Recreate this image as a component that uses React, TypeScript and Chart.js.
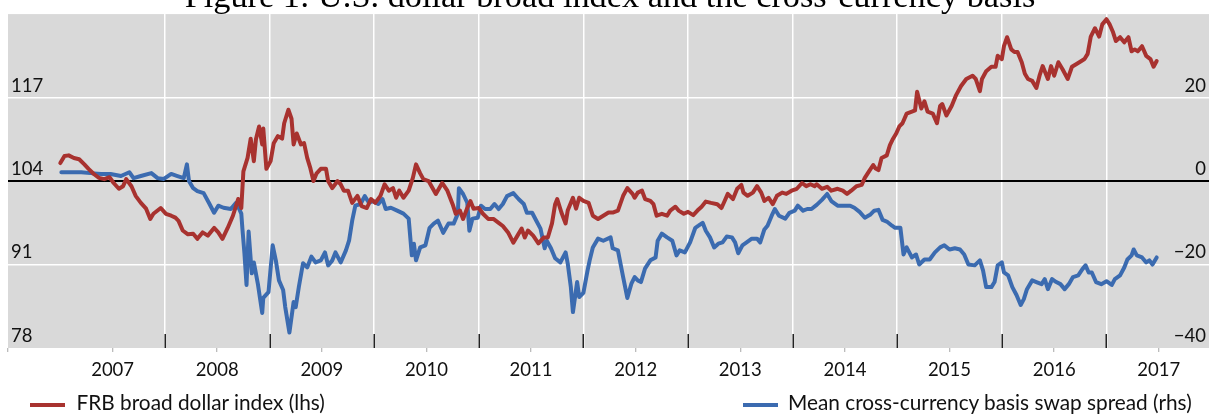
import React, { useEffect, useRef } from 'react';
import { Chart, registerables } from 'chart.js';

Chart.register(...registerables);

const TITLE = 'Figure 1: U.S. dollar broad index and the cross-currency basis';
const RED_LABEL = 'FRB broad dollar index (lhs)';
const BLUE_LABEL = 'Mean cross-currency basis swap spread (rhs)';
const RED = '#A8322F';
const BLUE = '#3B6BB0';
const PLOT_BG = '#D9D9D9';
const FONT = 'Lato';

// FRB broad dollar index (left axis), dates as decimal years
const redDates = [
  2007.00, 2007.04, 2007.08, 2007.13, 2007.18, 2007.23, 2007.27, 2007.32, 2007.37, 2007.42,
  2007.47, 2007.51, 2007.56, 2007.60, 2007.63, 2007.68, 2007.72, 2007.77, 2007.82, 2007.86,
  2007.89, 2007.96, 2008.01, 2008.06, 2008.10, 2008.13, 2008.17, 2008.22, 2008.27, 2008.31,
  2008.36, 2008.41, 2008.47, 2008.51, 2008.55, 2008.60, 2008.65, 2008.70, 2008.73, 2008.75,
  2008.79, 2008.82, 2008.85, 2008.87, 2008.90, 2008.93, 2008.94, 2008.97, 2009.01, 2009.04,
  2009.08, 2009.12, 2009.14, 2009.18, 2009.21, 2009.23, 2009.26, 2009.30, 2009.33, 2009.36,
  2009.39, 2009.42, 2009.45, 2009.49, 2009.54, 2009.56, 2009.60, 2009.65, 2009.68, 2009.71,
  2009.75, 2009.79, 2009.84, 2009.88, 2009.93, 2009.97, 2010.01, 2010.06, 2010.10, 2010.14,
  2010.18, 2010.21, 2010.24, 2010.28, 2010.33, 2010.37, 2010.40, 2010.44, 2010.47, 2010.52,
  2010.59, 2010.65, 2010.70, 2010.75, 2010.78, 2010.82, 2010.85, 2010.89, 2010.92, 2010.95,
  2011.00, 2011.04, 2011.09, 2011.14, 2011.19, 2011.23, 2011.28, 2011.33, 2011.37, 2011.41,
  2011.44, 2011.47, 2011.52, 2011.57, 2011.62, 2011.66, 2011.70, 2011.73, 2011.75, 2011.79,
  2011.83, 2011.85, 2011.90, 2011.93, 2011.96, 2012.00, 2012.05, 2012.09, 2012.14, 2012.19,
  2012.24, 2012.28, 2012.33, 2012.38, 2012.42, 2012.47, 2012.49, 2012.52, 2012.56, 2012.59,
  2012.64, 2012.67, 2012.70, 2012.75, 2012.80, 2012.83, 2012.88, 2012.91, 2012.96, 2013.00,
  2013.05, 2013.09, 2013.13, 2013.17, 2013.22, 2013.28, 2013.32, 2013.35, 2013.38, 2013.43,
  2013.47, 2013.51, 2013.53, 2013.57, 2013.62, 2013.66, 2013.70, 2013.73, 2013.77, 2013.81,
  2013.85, 2013.90, 2013.94, 2013.99, 2014.04, 2014.09, 2014.13, 2014.17, 2014.21, 2014.23,
  2014.28, 2014.33, 2014.37, 2014.43, 2014.48, 2014.52, 2014.56, 2014.61, 2014.66, 2014.69,
  2014.73, 2014.77, 2014.79, 2014.82, 2014.85, 2014.90, 2014.93, 2014.96, 2014.99, 2015.02,
  2015.05, 2015.09, 2015.14, 2015.17, 2015.19, 2015.23, 2015.26, 2015.29, 2015.34, 2015.38,
  2015.41, 2015.43, 2015.47, 2015.52, 2015.56, 2015.61, 2015.66, 2015.72, 2015.75, 2015.79,
  2015.81, 2015.85, 2015.90, 2015.94, 2015.96, 2016.00, 2016.02, 2016.05, 2016.09, 2016.12,
  2016.15, 2016.19, 2016.22, 2016.25, 2016.29, 2016.33, 2016.36, 2016.39, 2016.44, 2016.47,
  2016.50, 2016.54, 2016.58, 2016.63, 2016.67, 2016.71, 2016.76, 2016.79, 2016.82, 2016.85,
  2016.89, 2016.93, 2016.96, 2017.00, 2017.03, 2017.06, 2017.09, 2017.13, 2017.17, 2017.21,
  2017.24, 2017.27, 2017.30, 2017.34, 2017.38, 2017.42, 2017.45, 2017.48,
];
const redValues = [
  106.8, 107.9, 108.0, 107.6, 107.4, 106.6, 105.9, 105.1, 104.5, 104.3,
  104.6, 103.7, 102.8, 103.2, 104.3, 103.2, 101.7, 100.6, 99.7, 98.1,
  98.9, 99.8, 98.9, 98.6, 98.3, 97.8, 96.3, 95.7, 95.8, 95.0,
  96.0, 95.5, 96.7, 96.0, 95.0, 96.7, 98.6, 101.2, 99.8, 105.5,
  107.6, 110.6, 107.1, 110.5, 112.5, 109.7, 112.2, 105.9, 107.1, 109.9,
  111.0, 110.6, 113.0, 115.1, 113.7, 109.7, 111.4, 109.7, 109.9, 107.6,
  106.0, 104.0, 105.2, 105.9, 105.9, 104.0, 102.9, 104.0, 103.5, 102.5,
  102.5, 100.6, 101.7, 100.1, 99.8, 101.2, 100.6, 101.7, 103.5, 102.5,
  102.9, 101.4, 102.5, 101.4, 102.5, 104.5, 106.6, 105.2, 104.3, 104.0,
  102.0, 103.7, 102.5, 100.4, 98.9, 99.4, 98.1, 99.8, 100.9, 99.7,
  99.8, 98.9, 98.1, 98.1, 97.5, 97.0, 96.0, 94.4, 95.5, 96.6,
  95.2, 96.3, 95.5, 94.3, 95.2, 95.2, 97.4, 100.4, 101.2, 99.1,
  97.4, 99.4, 101.4, 99.7, 101.4, 100.9, 100.6, 98.6, 98.1, 98.6,
  99.1, 99.1, 99.4, 101.7, 102.9, 102.0, 101.4, 102.2, 102.5, 101.2,
  100.9, 100.4, 98.6, 98.9, 98.6, 99.4, 100.0, 99.4, 98.9, 99.2,
  98.7, 99.4, 100.0, 100.8, 100.6, 100.4, 99.8, 100.9, 102.0, 101.2,
  102.8, 103.4, 102.2, 101.7, 102.2, 103.2, 102.2, 100.9, 101.4, 100.4,
  101.7, 102.2, 102.0, 102.5, 102.8, 103.7, 103.2, 103.5, 103.2, 103.5,
  102.8, 103.1, 102.5, 102.8, 102.5, 102.0, 102.5, 103.2, 103.4, 104.5,
  105.5, 106.5, 106.0, 105.7, 107.6, 108.0, 109.6, 110.6, 111.4, 112.5,
  113.0, 114.5, 114.8, 115.0, 117.9, 115.3, 116.4, 114.8, 114.5, 113.0,
  115.7, 116.0, 114.2, 115.7, 117.3, 118.8, 119.9, 120.4, 119.9, 118.0,
  119.9, 121.1, 121.8, 121.8, 123.5, 123.0, 125.0, 126.4, 124.5, 124.1,
  124.1, 122.5, 120.7, 119.9, 119.6, 118.5, 120.4, 121.9, 119.9, 121.9,
  120.4, 122.5, 121.4, 119.9, 121.8, 122.2, 122.7, 123.0, 123.8, 126.5,
  127.8, 126.5, 128.4, 129.2, 128.4, 127.3, 125.8, 126.4, 125.6, 126.4,
  124.2, 124.5, 124.2, 125.0, 123.5, 123.0, 121.8, 122.7,
];

// Mean cross-currency basis swap spread (right axis)
const blueDates = [
  2007.01, 2007.10, 2007.20, 2007.29, 2007.39, 2007.48, 2007.58, 2007.66, 2007.70, 2007.77,
  2007.87, 2007.93, 2007.99, 2008.06, 2008.12, 2008.18, 2008.21, 2008.23, 2008.27, 2008.31,
  2008.37, 2008.42, 2008.47, 2008.51, 2008.56, 2008.63, 2008.68, 2008.71, 2008.73, 2008.74,
  2008.76, 2008.78, 2008.80, 2008.83, 2008.85, 2008.89, 2008.93, 2008.94, 2008.99, 2009.03,
  2009.06, 2009.09, 2009.13, 2009.15, 2009.19, 2009.23, 2009.25, 2009.28, 2009.32, 2009.36,
  2009.40, 2009.44, 2009.49, 2009.53, 2009.56, 2009.60, 2009.63, 2009.68, 2009.73, 2009.76,
  2009.79, 2009.82, 2009.87, 2009.91, 2009.95, 2009.99, 2010.04, 2010.08, 2010.11, 2010.16,
  2010.22, 2010.28, 2010.33, 2010.36, 2010.38, 2010.40, 2010.44, 2010.49, 2010.53, 2010.57,
  2010.61, 2010.66, 2010.71, 2010.76, 2010.80, 2010.81, 2010.85, 2010.89, 2010.91, 2010.94,
  2010.99, 2011.02, 2011.06, 2011.11, 2011.15, 2011.19, 2011.23, 2011.27, 2011.33, 2011.38,
  2011.43, 2011.46, 2011.51, 2011.55, 2011.59, 2011.63, 2011.65, 2011.69, 2011.73, 2011.78,
  2011.83, 2011.85, 2011.88, 2011.90, 2011.94, 2011.96, 2012.00, 2012.04, 2012.06, 2012.09,
  2012.14, 2012.19, 2012.26, 2012.28, 2012.33, 2012.38, 2012.42, 2012.46, 2012.49, 2012.52,
  2012.55, 2012.59, 2012.64, 2012.69, 2012.71, 2012.75, 2012.80, 2012.85, 2012.89, 2012.92,
  2012.97, 2013.02, 2013.07, 2013.10, 2013.14, 2013.17, 2013.21, 2013.25, 2013.29, 2013.33,
  2013.37, 2013.42, 2013.45, 2013.48, 2013.52, 2013.56, 2013.61, 2013.66, 2013.69, 2013.73,
  2013.76, 2013.80, 2013.83, 2013.87, 2013.93, 2013.97, 2014.02, 2014.05, 2014.10, 2014.14,
  2014.18, 2014.23, 2014.28, 2014.33, 2014.37, 2014.43, 2014.48, 2014.55, 2014.59, 2014.64,
  2014.69, 2014.74, 2014.78, 2014.82, 2014.86, 2014.90, 2014.95, 2014.98, 2015.03, 2015.06,
  2015.09, 2015.14, 2015.18, 2015.21, 2015.26, 2015.31, 2015.36, 2015.41, 2015.45, 2015.50,
  2015.55, 2015.60, 2015.64, 2015.68, 2015.74, 2015.79, 2015.82, 2015.85, 2015.90, 2015.93,
  2015.96, 2016.00, 2016.02, 2016.06, 2016.10, 2016.14, 2016.18, 2016.21, 2016.24, 2016.29,
  2016.33, 2016.38, 2016.41, 2016.44, 2016.48, 2016.52, 2016.56, 2016.60, 2016.64, 2016.68,
  2016.73, 2016.77, 2016.80, 2016.83, 2016.86, 2016.90, 2016.95, 2017.00, 2017.05, 2017.08,
  2017.13, 2017.17, 2017.20, 2017.24, 2017.26, 2017.29, 2017.34, 2017.38, 2017.41, 2017.44,
  2017.48,
];
const blueValues = [
  2.1, 2.1, 2.1, 1.9, 1.7, 1.7, 1.2, 2.1, 0.7, 1.2,
  1.9, 0.7, 0.5, 1.7, 1.2, 0.7, 4.0, 0.0, -1.7, -2.4,
  -2.9, -5.2, -7.6, -5.9, -6.4, -6.7, -5.2, -6.7, -7.8, -11.2,
  -17.3, -24.9, -12.1, -22.1, -19.5, -24.9, -31.6, -28.0, -26.6, -15.4,
  -19.0, -23.8, -26.1, -30.2, -36.3, -29.0, -30.2, -25.4, -19.7, -20.7,
  -18.1, -19.5, -19.0, -17.1, -20.2, -19.0, -17.1, -19.5, -16.6, -14.3,
  -9.5, -5.9, -5.5, -3.6, -5.2, -4.8, -5.5, -4.3, -6.7, -6.4,
  -7.1, -7.8, -9.0, -17.8, -15.0, -19.0, -15.9, -15.4, -11.2, -10.2,
  -9.5, -12.4, -10.2, -10.2, -7.8, -1.7, -3.1, -5.2, -11.9, -9.0,
  -8.8, -5.9, -6.7, -6.7, -5.5, -6.7, -5.5, -3.6, -2.9, -4.3,
  -5.5, -7.6, -7.6, -9.5, -11.4, -16.1, -14.3, -16.1, -18.5, -19.5,
  -17.1, -19.7, -25.4, -31.4, -24.2, -27.8, -26.8, -21.4, -19.0, -15.9,
  -13.8, -14.3, -13.5, -16.1, -16.6, -23.0, -28.0, -24.5, -23.0, -23.8,
  -24.2, -20.9, -19.0, -18.3, -14.3, -12.6, -13.5, -14.3, -17.8, -16.6,
  -17.1, -14.7, -11.2, -10.7, -10.0, -11.9, -13.5, -15.9, -15.0, -14.7,
  -13.3, -13.5, -14.7, -17.3, -15.4, -14.7, -13.8, -13.8, -14.7, -11.6,
  -10.7, -8.3, -6.7, -8.3, -9.0, -7.6, -7.1, -5.9, -7.1, -6.7,
  -6.7, -5.7, -4.5, -3.1, -4.8, -5.9, -5.9, -5.9, -6.4, -7.4,
  -8.8, -8.1, -7.1, -6.9, -9.3, -9.7, -10.7, -11.2, -11.2, -17.6,
  -15.9, -18.3, -17.6, -20.0, -18.8, -18.8, -17.1, -15.9, -15.4, -16.4,
  -16.1, -16.4, -17.6, -20.0, -20.2, -19.0, -21.4, -25.4, -25.4, -24.2,
  -20.2, -19.5, -21.9, -22.6, -25.4, -27.3, -29.7, -28.3, -25.9, -23.8,
  -24.2, -24.7, -23.5, -25.9, -23.5, -24.2, -24.7, -25.9, -24.7, -23.0,
  -22.6, -21.1, -20.2, -21.9, -21.9, -24.2, -24.7, -24.0, -24.9, -23.5,
  -22.6, -20.7, -18.8, -17.8, -16.4, -17.8, -18.3, -19.5, -19.0, -20.0,
  -18.3,
];

// Axis definitions
const yearLabels = [2007, 2008, 2009, 2010, 2011, 2012, 2013, 2014, 2015, 2016, 2017];
const yearBoundaries = [2008, 2009, 2010, 2011, 2012, 2013, 2014, 2015, 2016, 2017];
const leftTicks = [78, 91, 104, 117, 130];
const rightTicks = [-40, -20, 0, 20, 40];
const X_MIN = 2006.5;
const X_MAX = 2017.98;

const TRANSPARENT = 'rgba(0,0,0,0)';

const plotBackground = {
  id: 'plotBackground',
  beforeDraw(chart: any) {
    const { ctx, chartArea } = chart;
    ctx.save();
    ctx.fillStyle = PLOT_BG;
    ctx.fillRect(chartArea.left, chartArea.top, chartArea.right - chartArea.left, chartArea.bottom - chartArea.top);
    ctx.restore();
  },
};

const innerYearTicks = {
  id: 'innerYearTicks',
  beforeDatasetsDraw(chart: any) {
    const { ctx, chartArea } = chart;
    const xs = chart.scales.x;
    ctx.save();
    ctx.strokeStyle = '#222222';
    ctx.lineWidth = 1.5;
    ctx.beginPath();
    yearBoundaries.forEach((yr) => {
      const px = Math.round(xs.getPixelForValue(yr)) + 0.25;
      ctx.moveTo(px, chartArea.bottom);
      ctx.lineTo(px, chartArea.bottom - 14);
    });
    ctx.stroke();
    ctx.restore();
  },
};

export default function App() {
  const canvasRef = useRef<HTMLCanvasElement>(null);

  useEffect(() => {
    document.body.style.margin = '0';
    const canvas = canvasRef.current;
    if (!canvas) return;

    const chart = new Chart(canvas, {
      type: 'line',
      data: {
        datasets: [
          {
            label: RED_LABEL,
            data: redDates.map((d, i) => ({ x: d, y: redValues[i] })),
            yAxisID: 'y',
            borderColor: RED,
            backgroundColor: RED,
            borderWidth: 4,
            borderJoinStyle: 'round',
            borderCapStyle: 'round',
            pointRadius: 0,
            tension: 0,
            fill: false,
          },
          {
            label: BLUE_LABEL,
            data: blueDates.map((d, i) => ({ x: d, y: blueValues[i] })),
            yAxisID: 'y1',
            borderColor: BLUE,
            backgroundColor: BLUE,
            borderWidth: 4,
            borderJoinStyle: 'round',
            borderCapStyle: 'round',
            pointRadius: 0,
            tension: 0,
            fill: false,
          },
        ],
      },
      options: {
        responsive: false,
        animation: false,
        events: [],
        layout: { padding: { left: 8, top: 12, right: 0, bottom: 0 } },
        plugins: {
          legend: { display: false },
          title: { display: false },
          tooltip: { enabled: false },
        },
        scales: {
          x: {
            type: 'linear',
            min: X_MIN,
            max: X_MAX,
            border: { display: false },
            afterBuildTicks: (scale: any) => {
              const t: { value: number }[] = [{ value: yearLabels[0] - 0.5 }];
              yearLabels.forEach((y) => {
                t.push({ value: y });
                t.push({ value: y + 0.5 });
              });
              scale.ticks = t;
            },
            afterFit: (scale: any) => {
              scale.height = 66;
            },
            grid: {
              color: (ctx: any) => (yearBoundaries.includes(ctx.tick?.value) ? '#FFFFFF' : TRANSPARENT),
              lineWidth: 1.5,
              drawTicks: true,
              tickLength: 4,
              tickColor: (ctx: any) => (Number.isInteger(ctx.tick?.value) ? TRANSPARENT : '#A6A6A6'),
              tickWidth: 1,
            },
            ticks: {
              autoSkip: false,
              maxRotation: 0,
              minRotation: 0,
              padding: 7,
              color: '#111111',
              font: { family: FONT, size: 18.5 },
              callback: (value: any) => {
                const v = Number(value);
                if (Number.isInteger(v) || v < yearLabels[0]) return '';
                return String(Math.floor(v));
              },
            },
          },
          y: {
            type: 'linear',
            position: 'left',
            min: leftTicks[0],
            max: leftTicks[leftTicks.length - 1],
            border: { display: false },
            afterBuildTicks: (scale: any) => {
              scale.ticks = leftTicks.map((v) => ({ value: v }));
            },
            afterFit: (scale: any) => {
              scale.width = 0;
            },
            grid: {
              drawTicks: false,
              color: (ctx: any) => {
                const v = ctx.tick?.value;
                if (v === 104) return '#000000';
                if (v === 91 || v === 117) return '#FFFFFF';
                return TRANSPARENT;
              },
              lineWidth: (ctx: any) => (ctx.tick?.value === 104 ? 2 : 1.5),
            },
            ticks: {
              mirror: true,
              padding: 3,
              labelOffset: -12,
              color: '#111111',
              font: { family: FONT, size: 18.5 },
              callback: (value: any) => (Number(value) === leftTicks[leftTicks.length - 1] ? '' : String(value)),
            },
          },
          y1: {
            type: 'linear',
            position: 'right',
            min: rightTicks[0],
            max: rightTicks[rightTicks.length - 1],
            border: { display: false },
            afterBuildTicks: (scale: any) => {
              scale.ticks = rightTicks.map((v) => ({ value: v }));
            },
            afterFit: (scale: any) => {
              scale.width = 0;
            },
            grid: { drawOnChartArea: false, drawTicks: false },
            ticks: {
              mirror: true,
              padding: -3,
              labelOffset: -12,
              color: '#111111',
              font: { family: FONT, size: 18.5 },
              callback: (value: any) => {
                const v = Number(value);
                if (v === rightTicks[rightTicks.length - 1]) return '';
                return v < 0 ? '\u2212' + Math.abs(v) : String(v);
              },
            },
          },
        },
      },
      plugins: [plotBackground, innerYearTicks],
    } as any);

    return () => chart.destroy();
  }, []);

  const legendText: React.CSSProperties = {
    position: 'absolute',
    top: 391,
    font: `20.8px ${FONT}`,
    lineHeight: '22px',
    whiteSpace: 'nowrap',
    color: '#111111',
  };

  return (
    <div style={{ position: 'relative', width: 1209, height: 414, overflow: 'hidden', background: '#FFFFFF' }}>
      <canvas ref={canvasRef} width={1209} height={414} style={{ position: 'absolute', left: 0, top: 0, display: 'block' }} />
      <div
        style={{
          position: 'absolute',
          left: 0,
          top: -22,
          width: 1220,
          textAlign: 'center',
          font: '34.3px "Liberation Serif"',
          lineHeight: '34px',
          whiteSpace: 'nowrap',
          color: '#000000',
        }}
      >
        {TITLE}
      </div>
      <div style={{ position: 'absolute', left: 30, top: 403, width: 35, height: 4, background: RED }} />
      <div style={{ ...legendText, left: 76.5 }}>{RED_LABEL}</div>
      <div style={{ position: 'absolute', left: 743, top: 403, width: 35, height: 4, background: BLUE }} />
      <div style={{ ...legendText, left: 788 }}>{BLUE_LABEL}</div>
    </div>
  );
}
